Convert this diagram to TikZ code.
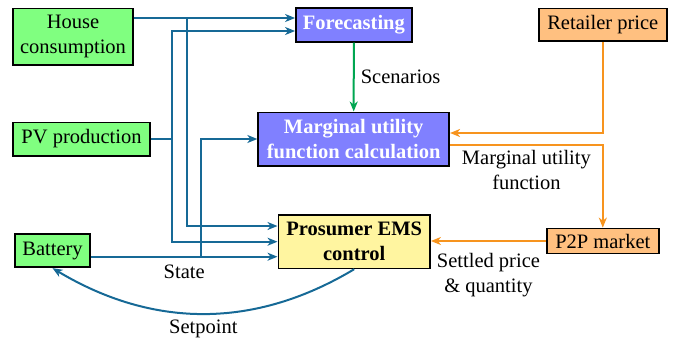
\documentclass[tikz,border=0pt]{standalone}
\usepackage{fontspec}
\setmainfont{Liberation Serif}
\usetikzlibrary{arrows.meta,calc}
\definecolor{cgreen}{RGB}{128,255,128}
\definecolor{cblue}{RGB}{128,128,255}
\definecolor{cyellow}{RGB}{255,245,160}
\definecolor{corange}{RGB}{255,192,128}
\definecolor{lblue}{RGB}{22,105,150}
\definecolor{lgreen}{RGB}{0,166,81}
\definecolor{lorange}{RGB}{247,148,30}
\begin{document}
\begin{tikzpicture}[x=1pt,y=-1pt,
  txt/.style={font=\fontsize{20.5}{25}\selectfont, align=center},
  box/.style={txt, draw=black, line width=1.7pt, inner sep=0pt},
  bl/.style={draw=lblue, line width=2pt, -{Stealth[length=10pt,width=8pt,inset=3pt]}},
  gr/.style={draw=lgreen, line width=2pt, -{Stealth[length=10pt,width=8pt,inset=3pt]}},
  orr/.style={draw=lorange, line width=2pt, -{Stealth[length=10pt,width=8pt,inset=3pt]}},
  lbl/.style={txt, inner sep=2pt}]
\useasboundingbox (0,0) rectangle (673,341);
% nodes
\node[box, fill=cgreen, minimum width=120pt, minimum height=56.7pt] (house) at (73,36.7) {House\\consumption};
\node[box, fill=cgreen, minimum width=137pt, minimum height=33.3pt] (pv) at (81.5,139) {PV production};
\node[box, fill=cgreen, minimum width=75pt, minimum height=33pt] (battery) at (52.5,250.8) {Battery};
\node[box, fill=cblue, text=white, font=\fontsize{20.5}{25}\selectfont\bfseries, minimum width=115.7pt, minimum height=33.4pt] (fore) at (353.8,25) {Forecasting};
\node[box, fill=cblue, text=white, font=\fontsize{20.5}{25}\selectfont\bfseries, minimum width=191pt, minimum height=53.3pt] (marg) at (353.7,139) {Marginal utility\\function calculation};
\node[box, fill=cyellow, font=\fontsize{20.5}{25}\selectfont\bfseries, minimum width=151.7pt, minimum height=53.3pt] (ems) at (354.2,241.7) {Prosumer EMS\\control};
\node[box, fill=corange, minimum width=127.7pt, minimum height=32.7pt] (retail) at (602.8,24.7) {Retailer price};
\node[box, fill=corange, minimum width=112pt, minimum height=25pt] (p2p) at (602.8,241) {P2P market};
% helper coordinates
\coordinate (fin1) at ([yshift=7pt]fore.west);
\coordinate (fin2) at ([yshift=-6pt]fore.west);
\coordinate (ein1) at ([yshift=15.7pt]ems.west);
\coordinate (ein2) at (ems.west);
\coordinate (ein3) at ([yshift=-15pt]ems.west);
\coordinate (min1) at ([yshift=6pt]marg.east);
\coordinate (mout) at ([yshift=-6pt]marg.east);
\coordinate (vx1) at (187,0);
\coordinate (vx2) at (172,0);
\coordinate (vx3) at (201,0);
% blue connectors
\draw[bl] (house.east |- fin1) -- (fin1);
\draw[bl] (house.east |- fin1) -| (vx1 |- ein1) -- (ein1);
\draw[bl] (pv.east) -| (vx2 |- fin2) -- (fin2);
\draw[bl] (pv.east) -| (vx2 |- ein2) -- (ein2);
\draw[bl] (battery.east |- ein3) -- (ein3) node[lbl, midway, below=5pt] (lstate) {State};
\draw[bl] (battery.east |- ein3) -| (vx3 |- marg.west) -- (marg.west);
\draw[bl] (ems.south) .. controls +(-100,60) and +(100,60) .. (battery.south) node[lbl, pos=0.5, below=3pt] (lset) {Setpoint};
% green
\draw[gr] (fore.south) -- (marg.north) node[lbl, midway, right=4pt] (lscen) {Scenarios};
% orange
\draw[orr] (retail.south) |- (min1);
\draw[orr] (mout) -- (mout -| p2p.north) node[lbl, midway, below=2pt] (lmuf) {Marginal utility\\function} -- (p2p.north);
\draw[orr] (p2p.west) -- (p2p.west -| ems.east) node[lbl, midway, below=9pt] (lsettle) {Settled price\\\& quantity};
\end{tikzpicture}
\end{document}
